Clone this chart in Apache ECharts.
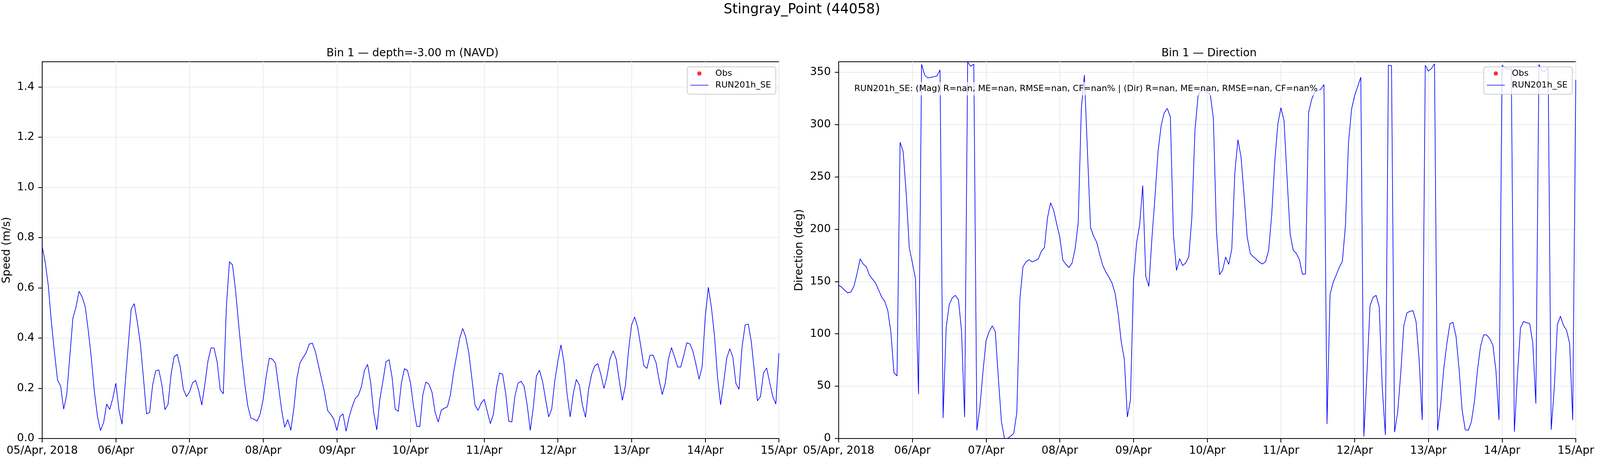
<!DOCTYPE html>
<html>
<head>
<meta charset="utf-8">
<title>Stingray_Point (44058)</title>
<script src="https://cdn.jsdelivr.net/npm/echarts@6/dist/echarts.min.js"></script>
<style>
    html, body { margin: 0; padding: 0; background: #fff; overflow: hidden; }
    #main { width: 100vw; height: 1200px; }
</style>
</head>
<body>
<div id="main"></div>
<script>
// x tick labels (one per day, 05/Apr 00:00 -> 15/Apr 00:00, hourly data)
var xLabels = ['05/Apr, 2018', '06/Apr', '07/Apr', '08/Apr', '09/Apr', '10/Apr',
    '11/Apr', '12/Apr', '13/Apr', '14/Apr', '15/Apr'];
var xTicks = [0, 24, 48, 72, 96, 120, 144, 168, 192, 216, 240];
var speedTicks = [0, 0.2, 0.4, 0.6, 0.8, 1.0, 1.2, 1.4];
var dirTicks = [0, 50, 100, 150, 200, 250, 300, 350];

// model speed (m/s), hourly, one row per day
var speedDay0 = [0.764, 0.701, 0.608, 0.463, 0.343, 0.233, 0.209, 0.117, 0.175, 0.327, 0.479, 0.523, 0.586, 0.564, 0.526, 0.431, 0.321, 0.187, 0.089, 0.032, 0.063, 0.137, 0.116, 0.160];
var speedDay1 = [0.220, 0.114, 0.057, 0.212, 0.365, 0.516, 0.537, 0.463, 0.376, 0.239, 0.098, 0.104, 0.215, 0.270, 0.273, 0.213, 0.115, 0.136, 0.257, 0.326, 0.335, 0.283, 0.196, 0.167];
var speedDay2 = [0.185, 0.222, 0.231, 0.190, 0.133, 0.217, 0.308, 0.361, 0.360, 0.305, 0.194, 0.178, 0.523, 0.704, 0.691, 0.589, 0.455, 0.327, 0.217, 0.129, 0.081, 0.077, 0.069, 0.097];
var speedDay3 = [0.157, 0.250, 0.320, 0.316, 0.299, 0.207, 0.114, 0.045, 0.075, 0.033, 0.122, 0.242, 0.302, 0.322, 0.342, 0.376, 0.380, 0.346, 0.291, 0.237, 0.182, 0.111, 0.096, 0.077];
var speedDay4 = [0.032, 0.087, 0.098, 0.029, 0.086, 0.127, 0.160, 0.172, 0.207, 0.272, 0.295, 0.223, 0.103, 0.034, 0.156, 0.228, 0.306, 0.314, 0.242, 0.117, 0.108, 0.219, 0.278, 0.271];
var speedDay5 = [0.220, 0.125, 0.049, 0.047, 0.174, 0.225, 0.216, 0.184, 0.105, 0.066, 0.112, 0.121, 0.126, 0.175, 0.262, 0.330, 0.399, 0.438, 0.404, 0.339, 0.237, 0.133, 0.112, 0.141];
var speedDay6 = [0.156, 0.108, 0.059, 0.097, 0.202, 0.261, 0.256, 0.179, 0.069, 0.066, 0.169, 0.220, 0.228, 0.208, 0.133, 0.032, 0.125, 0.249, 0.272, 0.227, 0.156, 0.086, 0.118, 0.231];
var speedDay7 = [0.308, 0.373, 0.302, 0.177, 0.086, 0.178, 0.235, 0.213, 0.133, 0.084, 0.196, 0.256, 0.289, 0.298, 0.255, 0.199, 0.248, 0.319, 0.349, 0.316, 0.231, 0.152, 0.211, 0.349];
var speedDay8 = [0.452, 0.484, 0.443, 0.368, 0.290, 0.279, 0.331, 0.332, 0.301, 0.231, 0.175, 0.221, 0.316, 0.362, 0.326, 0.285, 0.284, 0.330, 0.381, 0.377, 0.347, 0.294, 0.236, 0.287];
var speedDay9 = [0.483, 0.602, 0.523, 0.411, 0.245, 0.134, 0.223, 0.320, 0.357, 0.324, 0.219, 0.196, 0.365, 0.452, 0.456, 0.386, 0.267, 0.150, 0.167, 0.261, 0.281, 0.223, 0.167, 0.137, 0.340];

// model direction (deg), hourly, one row per day
var dirDay0 = [146.6, 144.5, 141.5, 139.1, 140.1, 145.7, 157.8, 171.6, 166.7, 164.1, 156.2, 152.4, 148.5, 141.9, 135.2, 131.0, 122.3, 101.3, 62.8, 59.8, 283.1, 274.0, 233.7, 182.1];
var dirDay1 = [167.8, 152.7, 42.3, 357.6, 347.3, 344.5, 345.0, 345.7, 346.4, 352.2, 19.6, 106.0, 127.9, 134.5, 136.8, 132.6, 102.9, 20.5, 359.5, 355.7, 357.8, 7.9, 30.6, 64.4];
var dirDay2 = [93.6, 102.2, 107.6, 102.2, 57.4, 16.1, 0.0, 0.2, 2.1, 4.9, 24.7, 133.3, 164.1, 168.8, 170.9, 168.8, 169.9, 171.6, 179.0, 182.5, 211.0, 225.3, 218.0, 204.9];
var dirDay3 = [192.3, 170.4, 166.4, 163.4, 167.8, 181.6, 206.3, 314.7, 347.3, 274.5, 201.7, 193.3, 187.7, 175.8, 165.3, 159.0, 154.3, 148.5, 138.7, 119.3, 92.4, 76.1, 20.5, 36.9];
var dirDay4 = [151.3, 187.0, 204.0, 241.8, 155.0, 145.4, 191.6, 231.3, 274.5, 299.0, 311.2, 315.4, 307.2, 194.7, 160.6, 171.8, 165.3, 167.8, 173.7, 211.5, 294.3, 327.0, 332.9, 333.3];
var dirDay5 = [330.5, 328.7, 306.0, 198.6, 156.6, 160.8, 173.4, 166.4, 181.1, 254.7, 285.5, 269.1, 232.5, 192.8, 176.9, 173.7, 171.3, 168.3, 166.7, 169.0, 180.0, 213.8, 265.2, 300.7];
var dirDay6 = [316.1, 303.7, 248.8, 195.6, 180.0, 176.9, 171.1, 156.9, 157.3, 311.4, 324.0, 331.0, 332.4, 333.8, 338.2, 13.8, 138.0, 149.2, 156.2, 163.6, 169.2, 203.3, 282.7, 314.7];
var dirDay7 = [327.7, 336.4, 345.2, 1.9, 62.1, 126.8, 134.9, 136.8, 125.6, 48.1, 3.3, 356.7, 356.2, 6.1, 24.7, 62.1, 107.6, 120.0, 121.6, 122.1, 111.6, 74.9, 17.7, 356.7];
var dirDay8 = [351.1, 353.4, 358.1, 7.7, 32.2, 66.3, 90.1, 109.5, 111.1, 97.8, 66.3, 27.1, 8.4, 7.9, 15.9, 35.2, 65.6, 88.2, 99.0, 99.0, 95.2, 89.4, 65.1, 17.7];
var dirDay9 = [356.7, 353.9, 352.7, 353.9, 6.5, 59.8, 105.7, 111.8, 110.6, 109.9, 91.3, 33.4, 357.4, 351.1, 351.1, 354.3, 8.4, 48.1, 108.8, 116.9, 108.1, 103.4, 90.8, 17.7, 342.7];

// observations: none in this window
var obsSpeed = [];
var obsDir = [];

var statsText = 'RUN201h_SE: (Mag) R=nan, ME=nan, RMSE=nan, CF=nan% | (Dir) R=nan, ME=nan, RMSE=nan, CF=nan%';

var speed = [].concat(speedDay0, speedDay1, speedDay2, speedDay3, speedDay4,
    speedDay5, speedDay6, speedDay7, speedDay8, speedDay9);
var dir = [].concat(dirDay0, dirDay1, dirDay2, dirDay3, dirDay4,
    dirDay5, dirDay6, dirDay7, dirDay8, dirDay9);

// [hour, value] pairs
function toPairs(arr) {
    var out = [];
    for (var i = 0; i < arr.length; i++) {
        out.push([i, arr[i]]);
    }
    return out;
}

var FONT = 'DejaVu Sans';
var chart = echarts.init(document.getElementById('main'), null, { renderer: 'canvas' });

// layout is laid out for a 5000px wide page; stretch it to whatever width we really get
var sx = chart.getWidth() / 5000;
function X(px) { return Math.round(px * sx); }

function xAxisOpt(gridIndex) {
    return {
        type: 'value', gridIndex: gridIndex, min: 0, max: 240,
        axisLine: { show: true, onZero: false, lineStyle: { color: '#000', width: 2 } },
        axisTick: { show: true, length: 10, customValues: xTicks, lineStyle: { color: '#000', width: 2 } },
        axisLabel: {
            customValues: xTicks, margin: 18, fontSize: 28, color: '#000', fontFamily: FONT,
            formatter: function (v) { return xLabels[Math.round(v / 24)]; }
        },
        splitLine: { show: true, lineStyle: { color: '#ebebeb', width: 2 } }
    };
}

function yAxisOpt(gridIndex, name, max, ticks, gap, fmt) {
    return {
        type: 'value', gridIndex: gridIndex, min: 0, max: max, interval: ticks[1],
        name: name, nameLocation: 'middle', nameGap: gap,
        nameTextStyle: { fontSize: 28, color: '#000', fontFamily: FONT },
        axisLine: { show: true, lineStyle: { color: '#000', width: 2 } },
        axisTick: { show: true, length: 10, customValues: ticks, lineStyle: { color: '#000', width: 2 } },
        axisLabel: { customValues: ticks, margin: 20, fontSize: 28, color: '#000', fontFamily: FONT, formatter: fmt },
        splitLine: { show: true, lineStyle: { color: '#ebebeb', width: 2 } }
    };
}

// plain horizontal bar for the line entry (no marker)
var lineIcon = 'path://M0,0h46v1.7h-46z';

function legendOpt(right) {
    return {
        orient: 'vertical', right: right, top: 171,
        data: [{ name: 'Obs', icon: 'circle' }, { name: 'RUN201h_SE', icon: lineIcon }],
        itemWidth: 46, itemHeight: 11, itemGap: 8,
        padding: [6, 12, 12, 8],
        backgroundColor: 'rgba(255,255,255,0.8)',
        borderColor: '#cccccc', borderWidth: 2, borderRadius: 6,
        textStyle: { fontSize: 22, color: '#000', fontFamily: FONT, padding: [0, 0, 0, 13] }
    };
}

var option = {
    animation: false,
    backgroundColor: '#fff',
    title: [
        { text: 'Stingray_Point (44058)', left: X(2500), top: 2, textAlign: 'center',
            textStyle: { fontSize: 35, fontWeight: 'normal', color: '#000', fontFamily: FONT } },
        { text: 'Bin 1 \u2014 depth=-3.00 m (NAVD)', left: X(1283), top: 118, textAlign: 'center',
            textStyle: { fontSize: 28, fontWeight: 'normal', color: '#000', fontFamily: FONT } },
        { text: 'Bin 1 \u2014 Direction', left: X(3772), top: 118, textAlign: 'center',
            textStyle: { fontSize: 28, fontWeight: 'normal', color: '#000', fontFamily: FONT } }
    ],
    grid: [
        { left: X(132), right: X(2566), top: 158, bottom: 78, show: true, borderColor: '#000', borderWidth: 2 },
        { left: X(2621), right: X(76), top: 158, bottom: 78, show: true, borderColor: '#000', borderWidth: 2 }
    ],
    legend: [legendOpt(X(2576)), legendOpt(X(87))],
    xAxis: [xAxisOpt(0), xAxisOpt(1)],
    yAxis: [
        yAxisOpt(0, 'Speed (m/s)', 1.5, speedTicks, 76, function (v) { return v.toFixed(1); }),
        yAxisOpt(1, 'Direction (deg)', 360, dirTicks, 86, function (v) { return String(v); })
    ],
    graphic: [{
        type: 'text', left: X(2664), top: 210, z: 100,
        style: {
            text: statsText, fontSize: 22, fontFamily: FONT, fill: '#000',
            backgroundColor: 'rgba(255,255,255,0.7)', padding: [6, 5]
        }
    }],
    series: [
        { name: 'Obs', type: 'scatter', xAxisIndex: 0, yAxisIndex: 0, data: obsSpeed,
            symbolSize: 11, itemStyle: { color: '#ff0000' } },
        { name: 'RUN201h_SE', type: 'line', xAxisIndex: 0, yAxisIndex: 0, data: toPairs(speed),
            symbol: 'none', lineStyle: { color: '#0000ff', width: 1.7 }, itemStyle: { color: '#0000ff' } },
        { name: 'Obs', type: 'scatter', xAxisIndex: 1, yAxisIndex: 1, data: obsDir,
            symbolSize: 11, itemStyle: { color: '#ff0000' } },
        { name: 'RUN201h_SE', type: 'line', xAxisIndex: 1, yAxisIndex: 1, data: toPairs(dir),
            symbol: 'none', lineStyle: { color: '#0000ff', width: 1.7 }, itemStyle: { color: '#0000ff' } }
    ]
};

chart.setOption(option);
</script>
</body>
</html>
